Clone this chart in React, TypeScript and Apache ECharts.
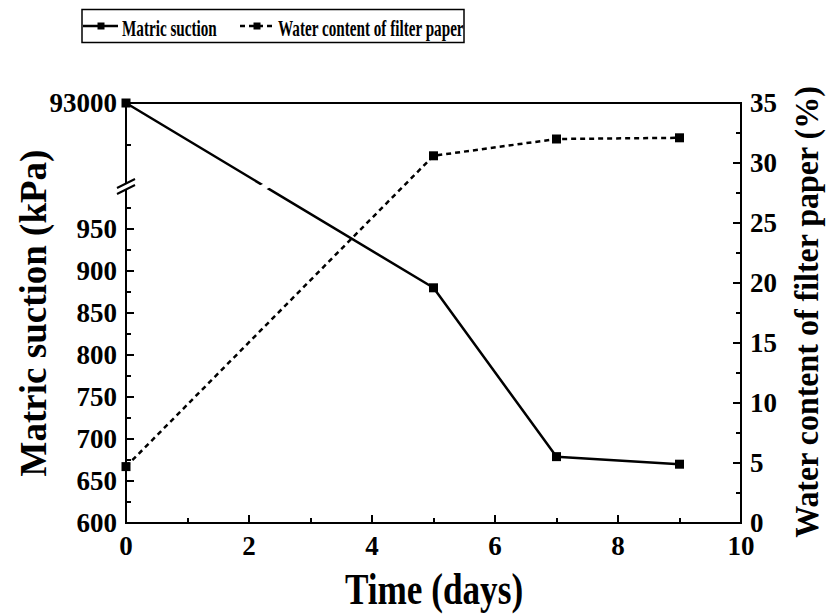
import React, { useEffect, useRef } from "react";
import * as echarts from "echarts";

// Measured series
const DAYS = [0, 5, 7, 9];
const MATRIC_SUCTION = [93000, 880, 679, 670]; // kPa
const WATER_CONTENT = [4.7, 30.6, 32.0, 32.1]; // %

// Left axis ticks (broken axis: 600–1000 kPa below the break, 92000–93000 kPa above)
const SUCTION_TICKS = [600, 650, 700, 750, 800, 850, 900, 950];
const SUCTION_MINOR_TICKS = [625, 675, 725, 775, 825, 875, 925, 975];
const UPPER_TICKS = [93000];
const UPPER_MINOR_TICKS = [92500];

const SERIES_NAMES = ["Matric suction", "Water content of filter paper"];
const X_TITLE = "Time (days)";
const LEFT_TITLE = "Matric suction (kPa)";
const RIGHT_TITLE = "Water content of filter paper (%)";

const FONT = '"Liberation Serif", "Times New Roman", serif';

// Broken-axis mapping: values up to BREAK are drawn as-is, the upper
// segment [UPPER_FROM, UPPER_TO] is squeezed into UPPER_HEIGHT axis units.
const AXIS_MIN = 600;
const BREAK = 1000;
const UPPER_FROM = 92000;
const UPPER_TO = 93000;
const UPPER_HEIGHT = 100;
const toAxis = (v: number) =>
  v <= BREAK ? v : BREAK + ((v - UPPER_FROM) / (UPPER_TO - UPPER_FROM)) * UPPER_HEIGHT;
const fromAxis = (d: number) =>
  d <= BREAK ? d : UPPER_FROM + ((d - BREAK) / UPPER_HEIGHT) * (UPPER_TO - UPPER_FROM);

export default function App() {
  const ref = useRef<HTMLDivElement>(null);

  useEffect(() => {
    if (!ref.current) return;
    const chart = echarts.init(ref.current, null, { renderer: "svg" });

    const labelStyle = {
      fontFamily: FONT,
      fontWeight: "bold" as const,
      fontSize: 27,
      color: "#000",
    };
    const axisLine = { show: true, lineStyle: { color: "#000", width: 2 } };

    chart.setOption({
      animation: false,
      backgroundColor: "#fff",
      grid: {
        left: 126,
        right: 85,
        top: 103,
        bottom: 92,
        show: true,
        borderColor: "#000",
        borderWidth: 2,
        backgroundColor: "transparent",
      },
      xAxis: {
        type: "value",
        min: 0,
        max: 10,
        interval: 2,
        axisLine,
        axisTick: { show: true, inside: true, length: 8, lineStyle: { width: 2, color: "#000" } },
        minorTick: { show: true, splitNumber: 2, length: 5, lineStyle: { width: 2, color: "#000" } },
        axisLabel: { ...labelStyle, margin: 9 },
        splitLine: { show: false },
      },
      yAxis: [
        {
          type: "value",
          position: "left",
          min: AXIS_MIN,
          max: BREAK + UPPER_HEIGHT,
          axisLine,
          axisTick: {
            show: true,
            inside: true,
            length: 8,
            customValues: [...SUCTION_TICKS, ...UPPER_TICKS].map(toAxis),
            lineStyle: { width: 2, color: "#000" },
          },
          axisLabel: {
            ...labelStyle,
            margin: 9,
            customValues: [...SUCTION_TICKS, ...UPPER_TICKS].map(toAxis),
            formatter: (d: number) => String(Math.round(fromAxis(d))),
          },
          splitLine: { show: false },
        },
        {
          type: "value",
          position: "left",
          offset: 0,
          min: AXIS_MIN,
          max: BREAK + UPPER_HEIGHT,
          axisLine: { show: false },
          axisTick: {
            show: true,
            inside: true,
            length: 5,
            customValues: [...SUCTION_MINOR_TICKS, ...UPPER_MINOR_TICKS].map(toAxis),
            lineStyle: { width: 2, color: "#000" },
          },
          axisLabel: { show: false },
          splitLine: { show: false },
        },
        {
          type: "value",
          position: "right",
          min: 0,
          max: 35,
          interval: 5,
          axisLine,
          axisTick: { show: true, inside: true, length: 8, lineStyle: { width: 2, color: "#000" } },
          minorTick: { show: true, splitNumber: 2, length: 5, lineStyle: { width: 2, color: "#000" } },
          axisLabel: { ...labelStyle, margin: 9 },
          splitLine: { show: false },
        },
      ],
      series: [
        {
          name: SERIES_NAMES[0],
          type: "line",
          yAxisIndex: 0,
          data: DAYS.map((d, i) => [d, toAxis(MATRIC_SUCTION[i])]),
          symbol: "rect",
          symbolSize: 9,
          lineStyle: { color: "#000", width: 2.5 },
          itemStyle: { color: "#000" },
          z: 5,
        },
        {
          name: SERIES_NAMES[1],
          type: "line",
          yAxisIndex: 2,
          data: DAYS.map((d, i) => [d, WATER_CONTENT[i]]),
          symbol: "rect",
          symbolSize: 9,
          lineStyle: { color: "#000", width: 2.5, type: [5, 4] },
          itemStyle: { color: "#000" },
          z: 5,
        },
      ],
    });

    // Axis break marks and the gap in the suction line where it crosses the break
    const axisBreak = chart.convertToPixel({ xAxisIndex: 0, yAxisIndex: 0 }, [0, BREAK]) as number[];
    let crossX = 0;
    for (let i = 0; i < DAYS.length - 1; i++) {
      const a = toAxis(MATRIC_SUCTION[i]);
      const b = toAxis(MATRIC_SUCTION[i + 1]);
      if ((a - BREAK) * (b - BREAK) <= 0 && a !== b) {
        crossX = DAYS[i] + ((BREAK - a) / (b - a)) * (DAYS[i + 1] - DAYS[i]);
        break;
      }
    }
    const lineBreak = chart.convertToPixel({ xAxisIndex: 0, yAxisIndex: 0 }, [crossX, BREAK]) as number[];

    const bx = axisBreak[0];
    const by = axisBreak[1] - 0.5;
    const qx = lineBreak[0];
    const qy = lineBreak[1] - 1;

    const textStyle = (text: string, size: number, align = "center") => ({
      text,
      x: 0,
      y: 0,
      fontFamily: FONT,
      fontWeight: "bold",
      fontSize: size,
      fill: "#000",
      align,
      verticalAlign: "middle",
      textAlign: align,
      textVerticalAlign: "middle",
    });

    chart.setOption({
      graphic: [
        // break in the left axis
        {
          type: "rect",
          z: 100,
          shape: { x: bx - 5, y: by - 3, width: 10, height: 6 },
          style: { fill: "#fff" },
        },
        {
          type: "line",
          z: 101,
          shape: { x1: bx - 9, y1: by - 3 + 4.5, x2: bx + 9, y2: by - 3 - 4.5 },
          style: { stroke: "#000", lineWidth: 2 },
        },
        {
          type: "line",
          z: 101,
          shape: { x1: bx - 9, y1: by + 3 + 4.5, x2: bx + 9, y2: by + 3 - 4.5 },
          style: { stroke: "#000", lineWidth: 2 },
        },
        // gap in the suction line
        {
          type: "polygon",
          z: 100,
          shape: {
            points: [
              [qx - 8, qy - 3.5 + 4],
              [qx + 8, qy - 3.5 - 4],
              [qx + 8, qy + 3.5 - 4],
              [qx - 8, qy + 3.5 + 4],
            ],
          },
          style: { fill: "#fff" },
        },
        // legend
        {
          type: "rect",
          z: 100,
          shape: { x: 82, y: 9.5, width: 382, height: 33 },
          style: { fill: "#fff", stroke: "#000", lineWidth: 1.5 },
        },
        {
          type: "line",
          z: 101,
          shape: { x1: 83, y1: 26, x2: 118, y2: 26 },
          style: { stroke: "#000", lineWidth: 2.5 },
        },
        {
          type: "rect",
          z: 102,
          shape: { x: 97.5, y: 22.5, width: 7, height: 7 },
          style: { fill: "#000" },
        },
        {
          type: "text",
          z: 101,
          x: 122,
          y: 28,
          scaleX: 0.66,
          style: textStyle(SERIES_NAMES[0], 23, "left"),
        },
        {
          type: "line",
          z: 101,
          shape: { x1: 240, y1: 26, x2: 273, y2: 26 },
          style: { stroke: "#000", lineWidth: 2.5, lineDash: [5, 4] },
        },
        {
          type: "rect",
          z: 102,
          shape: { x: 253.5, y: 22.5, width: 7, height: 7 },
          style: { fill: "#000" },
        },
        {
          type: "text",
          z: 101,
          x: 278,
          y: 28,
          scaleX: 0.66,
          style: textStyle(SERIES_NAMES[1], 23, "left"),
        },
        // axis titles
        {
          type: "text",
          z: 101,
          x: 434,
          y: 589,
          scaleX: 0.8,
          style: textStyle(X_TITLE, 44),
        },
        {
          type: "text",
          z: 101,
          x: 33,
          y: 313,
          rotation: Math.PI / 2,
          style: textStyle(LEFT_TITLE, 37),
        },
        {
          type: "text",
          z: 101,
          x: 807,
          y: 312,
          rotation: Math.PI / 2,
          scaleX: 0.94,
          style: textStyle(RIGHT_TITLE, 34),
        },
      ],
    });

    return () => chart.dispose();
  }, []);

  return (
    <div
      ref={ref}
      style={{ position: "fixed", left: 0, top: 0, width: 826, height: 615, background: "#fff" }}
    />
  );
}
